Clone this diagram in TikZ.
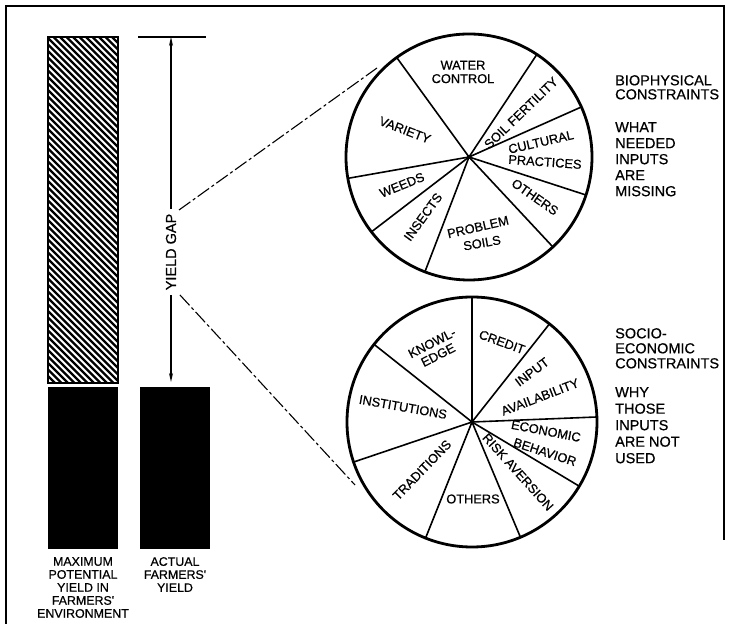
\documentclass[tikz,border=0pt]{standalone}
\usepackage{fontspec}
\setmainfont{Liberation Sans}
\newfontfamily\lettering[FakeBold=0.6]{Liberation Sans}
\usetikzlibrary{arrows.meta}

\begin{document}
\begin{tikzpicture}[x=1pt,y=1pt,
    every node/.style={inner sep=0pt},
    pielbl/.style={font=\lettering\fontsize{12.8}{13.5}\selectfont, align=center},
    sidelbl/.style={font=\lettering\fontsize{14.5}{14}\selectfont, align=left, anchor=north west},
    barlbl/.style={font=\lettering\fontsize{12.4}{13}\selectfont, align=center, anchor=north},
    rim/.style={line width=2.8pt},
    spoke/.style={line width=1.6pt},
    gapline/.style={line width=1.2pt},
    link/.style={line width=1.1pt, dash pattern=on 14pt off 3pt on 3pt off 3pt}]
  \useasboundingbox (0,0) rectangle (732,624);
  % frame
  \draw[line width=1.5pt] (6,0) -- (6,618) -- (724,618) -- (724,84);

  % bars
  \begin{scope}
    \clip (48,241) rectangle (118,587);
    \foreach \i in {-352,-345.5,...,76}
      \draw[line width=2.2pt] (48+\i,587) -- ++(400,-400);
  \end{scope}
  \draw[line width=1.8pt] (48,241) rectangle (118,587);
  \fill (48,75) rectangle (118,237);
  \fill (140,75) rectangle (210,237);
  \node[barlbl] (maxlbl) at (83,67) {MAXIMUM\\POTENTIAL\\YIELD IN\\FARMERS'\\ENVIRONMENT};
  \node[barlbl] (actlbl) at (175,67) {ACTUAL\\FARMERS'\\YIELD};

  % yield gap
  \coordinate (gaptop) at (171,587);
  \coordinate (gapbot) at (171,242);
  \draw[gapline] (138,587) -- (206,587);
  \node[rotate=90, inner xsep=5pt, font=\lettering\fontsize{14.5}{14}\selectfont] (gap) at (171,372) {YIELD GAP};
  \draw[gapline, -{Stealth[length=9pt,width=4pt]}] (gap.east) -- (gaptop);
  \draw[gapline, -{Stealth[length=9pt,width=4pt]}] (gap.west) -- (gapbot);

  % pies
  \coordinate (bio) at (469,467);
  \coordinate (soc) at (472,202);
  \coordinate (upA) at (179,414);
  \coordinate (upB) at (377,556);
  \coordinate (loA) at (180,329);
  \coordinate (loB) at (355,139);
  \draw[link] (upA) -- (upB);
  \draw[link] (loA) -- (loB);

  \foreach \a in {126,56.5,24,-18,-47,-111,217.5,190}
    \draw[spoke] (bio) -- ++(\a:123);
  \draw[rim] (bio) circle (123);
  \fill (bio) circle (2);

  \node[pielbl] (water) at (463,552) {WATER\\CONTROL};
  \node[pielbl, rotate=-21] (variety) at (405,494) {VARIETY};
  \node[pielbl, rotate=44] (soil) at (521,511) {SOIL FERTILITY};
  \node[pielbl, rotate=13] (cult) at (541,482) {CULTURAL};
  \node[pielbl, rotate=-4] (pract) at (545,462) {PRACTICES};
  \node[pielbl, rotate=-35] (others1) at (535,427) {OTHERS};
  \node[pielbl, rotate=13] (problem) at (478,397) {PROBLEM};
  \node[pielbl, rotate=10] (soils) at (482,381) {SOILS};
  \node[pielbl, rotate=54] (insects) at (423,407) {INSECTS};
  \node[pielbl, rotate=22] (weeds) at (402,439) {WEEDS};

  \foreach \a in {90,51.7,2.3,-30.9,-67.2,248.2,198.7,141.6}
    \draw[spoke] (soc) -- ++(\a:125);
  \draw[rim] (soc) circle (125);
  \fill (soc) circle (2);

  \node[pielbl, rotate=-20] (credit) at (502,282) {CREDIT};
  \node[pielbl, rotate=37] (input) at (532,252) {INPUT};
  \node[pielbl, rotate=21] (avail) at (540,227) {AVAILABILITY};
  \node[pielbl, rotate=-11] (econ) at (546,193) {ECONOMIC};
  \node[pielbl, rotate=-18] (behav) at (545,172) {BEHAVIOR};
  \node[pielbl, rotate=-48] (risk) at (518,152) {RISK AVERSION};
  \node[pielbl] (others2) at (473,125) {OTHERS};
  \node[pielbl, rotate=46] (trad) at (422,154) {TRADITIONS};
  \node[pielbl, rotate=-10] (inst) at (403,217) {INSTITUTIONS};
  \node[pielbl, rotate=27] (know) at (435,275) {KNOWL-\\EDGE};

  % side texts
  \node[sidelbl] (biohead) at (615,549) {BIOPHYSICAL\\CONSTRAINTS};
  \node[sidelbl, font=\lettering\fontsize{14.5}{16}\selectfont] (biowhat) at (615,502) {WHAT\\NEEDED\\INPUTS\\ARE\\MISSING};
  \node[sidelbl, font=\lettering\fontsize{14.5}{15}\selectfont] (sochead) at (615,296) {SOCIO-\\ECONOMIC\\CONSTRAINTS};
  \node[sidelbl, font=\lettering\fontsize{14.5}{16.5}\selectfont] (socwhy) at (615,237) {WHY\\THOSE\\INPUTS\\ARE NOT\\USED};
\end{tikzpicture}
\end{document}
